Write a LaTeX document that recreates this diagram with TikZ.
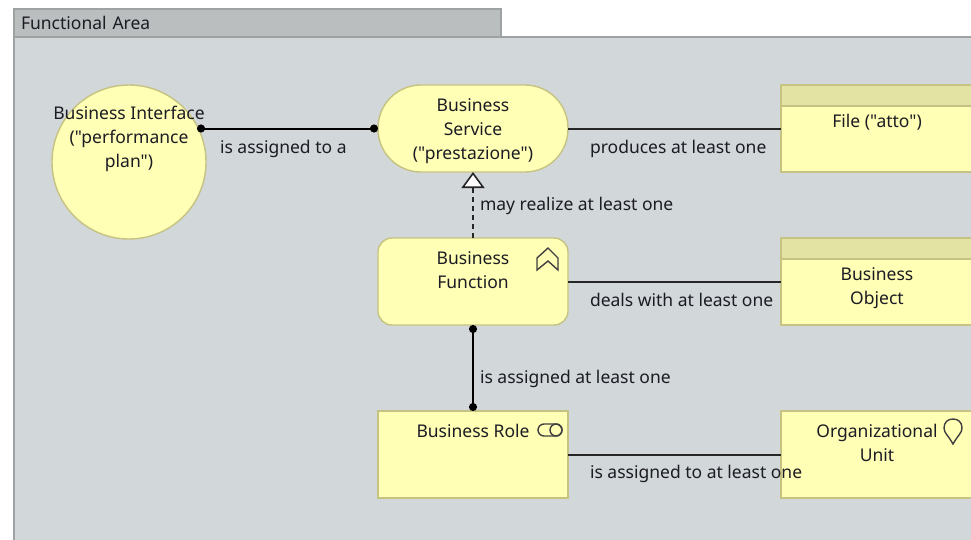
\documentclass[tikz,border=0pt]{standalone}
\usepackage{fontspec}
\setmainfont{Noto Sans}[Ligatures=TeXOff]
\usetikzlibrary{arrows.meta}
\definecolor{areabg}{HTML}{D2D7D9}
\definecolor{areatab}{HTML}{BBBEBF}
\definecolor{arealine}{HTML}{9EA2A3}
\definecolor{bizfill}{HTML}{FFFFB5}
\definecolor{bizhead}{HTML}{E3E3A3}
\definecolor{bizline}{HTML}{C6C382}
\definecolor{inkdark}{HTML}{1C1C24}
\tikzset{
  every node/.style={text=inkdark,font=\fontsize{17.5}{24}\selectfont,inner sep=0pt,outer sep=0pt},
  elem/.style={draw=bizline,fill=bizfill,line width=1.4pt},
  elembox/.style={elem,rectangle,minimum width=190pt,minimum height=87pt},
  elemhead/.style={draw=bizline,fill=bizhead,line width=1.4pt,rectangle,minimum width=192pt,minimum height=21pt,anchor=north},
  elemtext/.style={align=center,anchor=north},
  connlabel/.style={anchor=west},
  plainline/.style={line width=2pt,draw=black!85},
  dotline/.style={line width=2pt,draw=black,{Circle[length=8pt,width=8pt]}-{Circle[length=8pt,width=8pt]}},
  realizeline/.style={line width=1.7pt,draw=black!85,dash pattern=on 5pt off 4pt,-{Triangle[open,fill=white,length=16pt,width=23pt,line width=1.6pt]}},
  iconline/.style={line width=1.4pt,draw=black!75}
}
\begin{document}
\begin{tikzpicture}[x=1pt,y=-1pt]
  \path[use as bounding box,clip] (0,0) rectangle (971,539);
  % group
  \draw[fill=areabg,draw=arealine,line width=1.2pt] (14,37) rectangle (1000,580);
  \node[anchor=north west,rectangle,draw=arealine,fill=areatab,line width=1.2pt,minimum height=28pt,text width=473pt,inner xsep=7pt,align=left] (areaTab) at (14,9) {\raisebox{-2pt}{Functional Area}};
  % elements
  \node[elem,circle,minimum size=154pt] (iface) at (129,162) {};
  \node[elembox,rounded corners=43pt] (service) at (473,128.5) {};
  \node[elembox,rounded corners=14pt] (function) at (473,281.5) {};
  \node[elembox] (role) at (473,454.5) {};
  \node[elembox,minimum width=192pt] (file) at (877,128.5) {};
  \node[elembox,minimum width=192pt] (object) at (877,281.5) {};
  \node[elembox,minimum width=192pt] (unit) at (877,454.5) {};
  \node[elemhead] (fileHead) at (file.north) {};
  \node[elemhead] (objectHead) at (object.north) {};
  \coordinate (ifaceDot) at (197,128.5);
  % connectors
  \draw[dotline] (ifaceDot) -- (service.west);
  \draw[plainline] (service.east) -- (file.west);
  \draw[realizeline] (function.north) -- (service.south);
  \draw[plainline] (function.east) -- (object.west);
  \draw[dotline] (function.south) -- (role.north);
  \draw[plainline] (role.east) -- (unit.west);
  % element texts
  \node[elemtext] (ifaceText) at (129,106.5) {Business Interface\\("performance\\plan")};
  \node[elemtext] (serviceText) at (473,98.5) {Business\\Service\\("prestazione")};
  \node[elemtext] (functionText) at (473,251.5) {Business\\Function};
  \node[elemtext] (roleText) at (473,424.5) {Business Role};
  \node[elemtext] (fileText) at (877,114.5) {File ("atto")};
  \node[elemtext] (objectText) at (877,267.5) {Business\\Object};
  \node[elemtext] (unitText) at (877,424.5) {Organizational\\Unit};
  % connector labels
  \node[connlabel] (assignLabel) at (220,149) {is assigned to a};
  \node[connlabel] (producesLabel) at (590,149) {produces at least one};
  \node[connlabel] (realizeLabel) at (480,206) {may realize at least one};
  \node[connlabel] (dealsLabel) at (590,300) {deals with at least one};
  \node[connlabel] (assignedLabel) at (480,379) {is assigned at least one};
  \node[connlabel] (assignedToLabel) at (590,474) {is assigned to at least one};
  % icons
  \draw[iconline] (537,258)--(548,248)--(558,258)--(558,270)--(548,261)--(537,270)--cycle;
  \draw[iconline,rounded corners=6pt] (538,424) rectangle (562,436);
  \draw[iconline] (556,430) circle[radius=6];
  \draw[iconline] (953,444) .. controls (948,435) and (944,433) .. (944,428) .. controls (944,422) and (948,419) .. (953,419) .. controls (958,419) and (962,422) .. (962,428) .. controls (962,433) and (958,435) .. (953,444) -- cycle;
\end{tikzpicture}
\end{document}
